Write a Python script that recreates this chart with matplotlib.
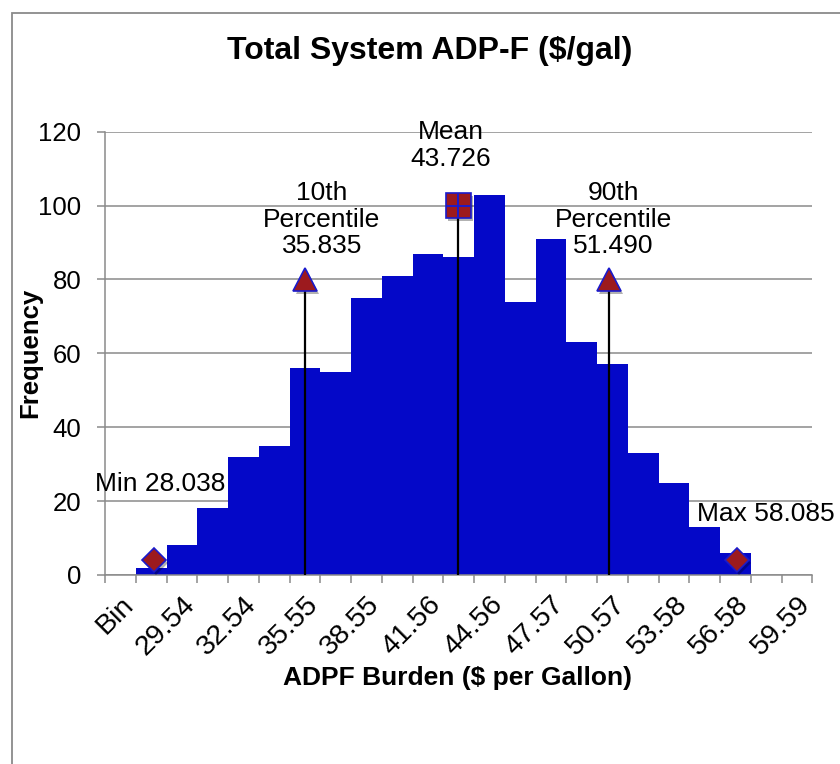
"""
    Histogram of the total system ADP-F burden with min / percentile / mean / max
    markers drawn on top, in the style of the original spreadsheet chart.
"""

import matplotlib
matplotlib.use('Agg')
import matplotlib.pyplot as plt
import matplotlib.patches as patches
import matplotlib.patheffects as pe
import numpy

# Histogram bins (category axis) and counts
categories = ['Bin', '28.04', '29.54', '31.04', '32.54', '34.05', '35.55', '37.05',
              '38.55', '40.06', '41.56', '43.06', '44.56', '46.07', '47.57', '49.07',
              '50.57', '52.08', '53.58', '55.08', '56.58', '58.09', '59.59']
frequency = [0, 2, 8, 18, 32, 35, 56, 55, 75, 81, 87, 86, 103, 74, 91, 63, 57,
             33, 25, 13, 6, 0, 0]

# Summary statistics drawn as markers
stat_labels = ['Min 28.038', '10th\nPercentile\n35.835', 'Mean\n43.726',
               '90th\nPercentile\n51.490', 'Max 58.085']
stat_values = [28.038, 35.835, 43.726, 51.490, 58.085]
stat_heights = [4, 80, 100, 80, 4]
stat_markers = ['D', '^', 's', '^', 'D']
stat_has_line = [False, True, True, True, False]

BAR_BLUE = '#0408C8'
MARK_RED = '#9C1A1E'
MARK_EDGE = '#1A1ACC'
GRID_GRAY = '#8A8A8A'
FONT = 'Liberation Sans'


def main():
    plt.rcParams['font.family'] = [FONT, 'DejaVu Sans']

    fig = plt.figure(figsize=(8.4, 7.64), dpi=100)
    ax = fig.add_axes([0.125, 0.2474, 0.842, 0.5802])

    x = numpy.arange(len(categories))
    ax.bar(x, frequency, width=1.0, color=BAR_BLUE, linewidth=0, zorder=2)

    ax.set_xlim(-0.5, len(categories) - 0.5)
    ax.set_ylim(0, 120)
    ax.set_yticks(range(0, 121, 20))
    ax.yaxis.grid(True, color=GRID_GRAY, linewidth=1.1)
    ax.set_axisbelow(True)

    # category labels every other bin, tick marks on bin boundaries
    ax.set_xticks(x[::2])
    ax.set_xticklabels(categories[::2], rotation=45, ha='right', va='top',
                       rotation_mode='anchor', fontsize=20.5)
    ax.set_xticks(numpy.arange(-0.5, len(categories)), minor=True)
    ax.tick_params(axis='x', which='major', length=0, pad=12)
    ax.tick_params(axis='x', which='minor', length=6, width=1.1, color=GRID_GRAY)
    ax.tick_params(axis='y', length=6, width=1.1, color=GRID_GRAY, pad=11,
                   labelsize=18.5)

    for side in ['top', 'right']:
        ax.spines[side].set_visible(False)
    for side in ['left', 'bottom']:
        ax.spines[side].set_color(GRID_GRAY)
        ax.spines[side].set_linewidth(1.1)

    # value axis for the statistic markers, hidden
    ax2 = ax.twiny()
    ax2.set_xlim(25.52, 61.95)
    ax2.set_ylim(0, 120)
    ax2.axis('off')

    offsets = [(4.6, 49.9), (12.0, 18.7), (-5.4, 28.8), (3.1, 18.7), (20.7, 28.3)]
    sizes = {'D': 12, '^': 17, 's': 17.5}
    shadow = [pe.SimplePatchShadow(offset=(1.5, -2), shadow_rgbFace='k', alpha=0.3),
              pe.Normal()]

    for i in range(len(stat_values)):
        v = stat_values[i]
        h = stat_heights[i]
        if stat_has_line[i]:
            ax2.plot([v, v], [0, h], color='black', linewidth=1.6, zorder=3)
        ax2.plot([v], [h], marker=stat_markers[i], markersize=sizes[stat_markers[i]],
                 markerfacecolor=MARK_RED, markeredgecolor=MARK_EDGE,
                 markeredgewidth=1.2, linestyle='none', zorder=4,
                 path_effects=shadow)
        if stat_markers[i] == 's':
            ax2.plot([v], [h], marker='+', markersize=17, markeredgecolor=MARK_EDGE,
                     markeredgewidth=1.4, linestyle='none', zorder=5)
        ax2.annotate(stat_labels[i], xy=(v, h), xytext=offsets[i],
                     textcoords='offset points', ha='center', va='baseline',
                     fontsize=19, linespacing=1.15, annotation_clip=False, zorder=6)

    fig.text(430 / 840, 1 - 51 / 764, 'Total System ADP-F ($/gal)', ha='center',
             va='center', fontsize=23, fontweight='bold')
    fig.text(457.5 / 840, 1 - 678 / 764, 'ADPF Burden ($ per Gallon)', ha='center',
             va='center', fontsize=19, fontweight='bold')
    fig.text(30.5 / 840, 1 - 353 / 764, 'Frequency', ha='center', va='center',
             rotation=90, fontsize=18.5, fontweight='bold')

    # chart area border (right and bottom edges fall outside the picture)
    fig.patches.append(patches.Rectangle((12 / 840, -0.05), 1.1, 1.05 - 13 / 764,
                                         transform=fig.transFigure, fill=False,
                                         edgecolor=GRID_GRAY, linewidth=1.3))

    fig.savefig('out.png', dpi=100)


if __name__ == '__main__':
    main()
